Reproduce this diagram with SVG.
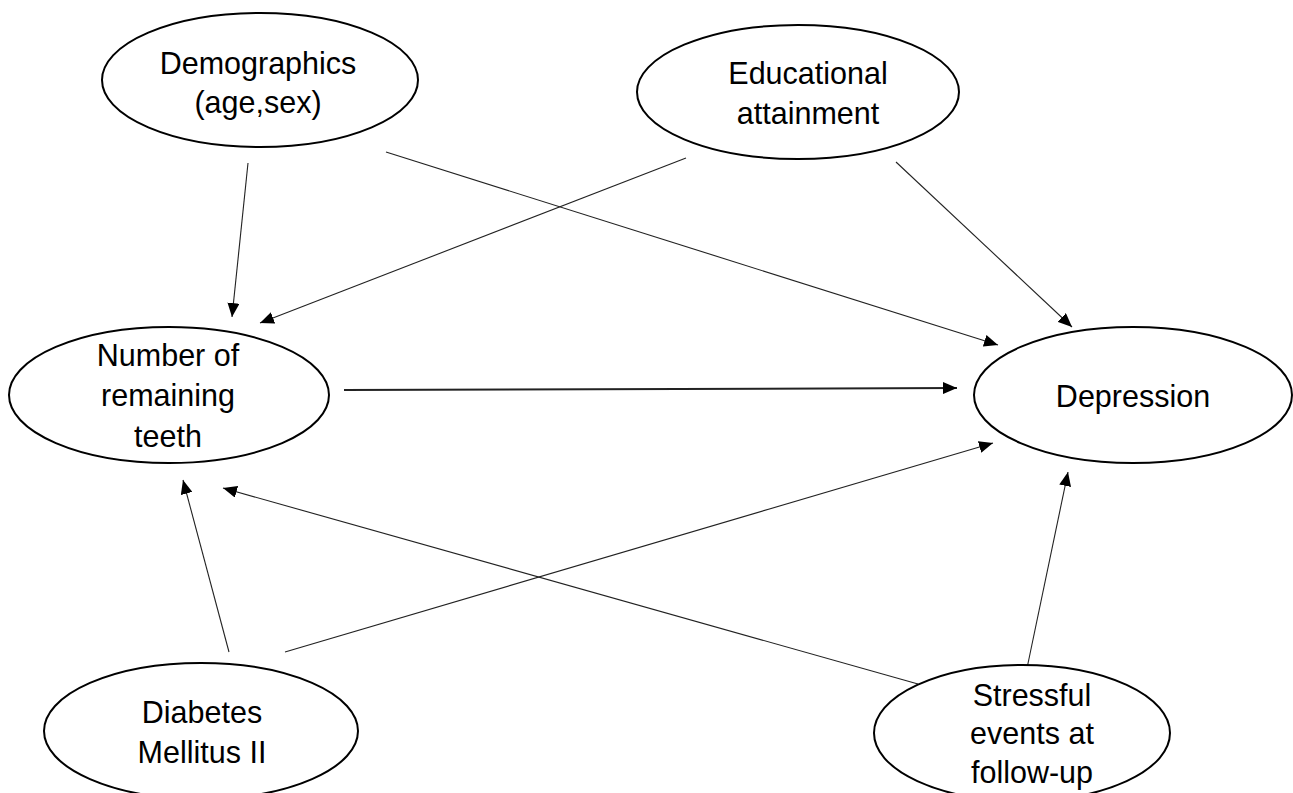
<svg xmlns="http://www.w3.org/2000/svg" width="1293" height="793" viewBox="0 0 1293 793">
<defs>
<style>
.node ellipse{fill:#fff;stroke:#000;stroke-width:2}
.node text{font-family:"Liberation Sans",Arial,sans-serif;font-size:30.5px;fill:#000;text-anchor:middle}
.edge{stroke:#222;stroke-width:1.1;fill:none;marker-end:url(#ah)}
.edge.main{stroke-width:2}
</style>
<marker id="ah" markerUnits="userSpaceOnUse" markerWidth="14" markerHeight="12" refX="14" refY="6" orient="auto">
<path d="M0,0 L14,6 L0,12 z" fill="#000"/>
</marker>
</defs>
<rect width="1293" height="793" fill="#fff"/>
<g id="connectors">
<line class="edge" x1="248" y1="163" x2="232" y2="317"/>
<line class="edge" x1="686" y1="158" x2="260" y2="323"/>
<line class="edge" x1="386" y1="152" x2="998" y2="345"/>
<line class="edge" x1="896" y1="162" x2="1072" y2="327"/>
<line class="edge main" x1="344" y1="390" x2="957" y2="388"/>
<line class="edge" x1="229" y1="652" x2="183" y2="480"/>
<line class="edge" x1="285" y1="652" x2="993" y2="443"/>
<line class="edge" x1="918" y1="684" x2="223" y2="488"/>
<line class="edge" x1="1026" y1="673" x2="1068" y2="472"/>
</g>
<g id="demographics" class="node">
<ellipse cx="260" cy="80" rx="158" ry="67"/>
<text x="258" y="74">Demographics</text>
<text x="258" y="113">(age,sex)</text>
</g>
<g id="education" class="node">
<ellipse cx="798" cy="92" rx="161" ry="67"/>
<text x="808" y="84">Educational</text>
<text x="808" y="124">attainment</text>
</g>
<g id="teeth" class="node">
<ellipse cx="169" cy="395" rx="160" ry="68"/>
<text x="168" y="366">Number of</text>
<text x="168" y="406">remaining</text>
<text x="168" y="447">teeth</text>
</g>
<g id="depression" class="node">
<ellipse cx="1133" cy="395" rx="159" ry="68"/>
<text x="1133" y="407">Depression</text>
</g>
<g id="diabetes" class="node">
<ellipse cx="201" cy="731" rx="157" ry="68"/>
<text x="202" y="723">Diabetes</text>
<text x="202" y="763">Mellitus II</text>
</g>
<g id="stress" class="node">
<ellipse cx="1022" cy="733" rx="148" ry="68"/>
<text x="1032" y="706">Stressful</text>
<text x="1032" y="744">events at</text>
<text x="1032" y="783">follow-up</text>
</g>
</svg>
